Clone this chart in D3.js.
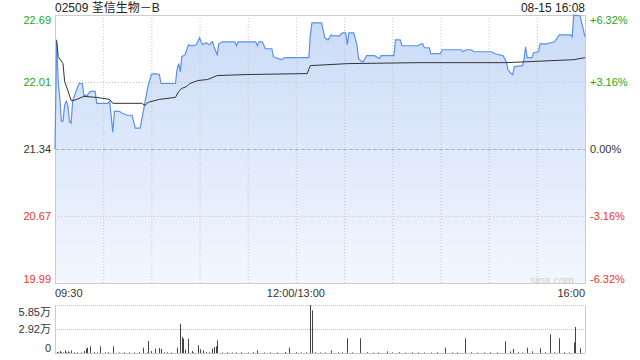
<!DOCTYPE html>
<html>
<head>
<meta charset="utf-8">
<script src="https://cdn.jsdelivr.net/npm/d3@7"></script>
<style>
    body { margin: 0; background: #ffffff; }
    text { font-family: "Liberation Sans", Arial, "Noto Sans CJK SC", sans-serif; }
    .label { font-size: 11px; fill: #333333; }
    .title { font-size: 12px; fill: #222222; }
</style>
</head>
<body>
<div id="chart"></div>
<script>
// trading minutes since 09:30 (lunch break removed), 330 = 16:00
const priceMin = [0, 1, 2, 3, 4, 5, 6, 7, 8, 9, 10, 11, 13, 15, 17, 18, 20, 22, 25, 26, 33, 34, 36, 37, 40, 42, 45, 48, 50, 53,
    55, 58, 60, 62, 65, 66, 75, 76, 77, 78, 79, 81, 83, 85, 88, 90, 91, 92, 94, 96, 98, 99, 101, 102, 104, 112, 113, 114, 125, 126,
    127, 129, 131, 135, 136, 139, 141, 143, 158, 159, 160, 166, 168, 170, 172, 173, 177, 179, 181, 182, 183, 186, 188, 189, 191, 192, 194, 199, 202, 203,
    211, 212, 215, 216, 226, 228, 229, 230, 233, 234, 240, 241, 253, 254, 256, 259, 261, 272, 274, 279, 281, 282, 284, 285, 286, 291, 292, 293, 294, 297,
    298, 301, 302, 306, 311, 314, 321, 322, 323, 327, 330];
const price = [21.34, 22.42, 22.02, 21.85, 21.62, 21.62, 21.78, 21.82, 21.78, 21.62, 21.60, 21.82, 21.92, 22.00, 22.00, 21.88, 21.88, 21.92, 21.92, 21.80, 21.80, 21.82, 21.51, 21.72, 21.72, 21.70, 21.68, 21.68, 21.55, 21.55,
    21.72, 21.98, 22.09, 22.10, 22.09, 22.00, 22.00, 22.14, 22.20, 22.12, 22.27, 22.29, 22.39, 22.38, 22.39, 22.46, 22.42, 22.39, 22.41, 22.39, 22.42, 22.37, 22.29, 22.40, 22.42, 22.42, 22.38, 22.42, 22.42, 22.38,
    22.42, 22.42, 22.35, 22.35, 22.27, 22.25, 22.24, 22.26, 22.26, 22.49, 22.61, 22.61, 22.46, 22.44, 22.49, 22.48, 22.48, 22.51, 22.51, 22.39, 22.51, 22.51, 22.39, 22.25, 22.22, 22.22, 22.28, 22.28, 22.25, 22.28,
    22.28, 22.44, 22.44, 22.38, 22.38, 22.40, 22.40, 22.36, 22.36, 22.30, 22.30, 22.34, 22.34, 22.32, 22.34, 22.34, 22.32, 22.32, 22.30, 22.28, 22.22, 22.14, 22.10, 22.09, 22.17, 22.18, 22.24, 22.37, 22.26, 22.26,
    22.31, 22.32, 22.40, 22.40, 22.42, 22.49, 22.49, 22.47, 22.69, 22.68, 22.47];

const avgMin = [1, 2, 5, 6, 8, 10, 12, 18, 26, 34, 36, 54, 56, 58, 65, 75, 77, 79, 82, 84, 89, 95, 101, 119, 157, 159, 182, 227, 281, 323, 330];
const avgPrice = [22.44, 22.27, 22.20, 22.02, 21.93, 21.83, 21.83, 21.87, 21.86, 21.84, 21.80, 21.80, 21.78, 21.81, 21.84, 21.86, 21.92, 21.95, 21.97, 22.00,
    22.03, 22.04, 22.08, 22.09, 22.10, 22.18, 22.20, 22.21, 22.21, 22.24, 22.26];

// volume in 万 shares
const volMin = [1, 3, 6, 8, 10, 18, 19, 20, 22, 28, 36, 55, 58, 60, 62, 65, 66, 76, 78, 79, 80, 81, 83, 85, 89, 90, 92, 98, 99, 100,
    101, 126, 143, 146, 159, 160, 172, 182, 190, 207, 243, 255, 280, 283, 285, 294, 297, 302, 308, 314, 323, 324, 327,
    2, 4, 5, 7, 9, 12, 14, 16, 24, 26, 31, 33, 40, 43, 46, 49, 52, 57, 68, 70, 72, 86, 94, 96, 104, 107, 110, 113, 116, 120,
    123, 130, 134, 138, 150, 153, 156, 162, 165, 168, 176, 179, 185, 194, 198, 201, 210, 214, 218, 222, 226, 230, 234, 238, 247, 250,
    259, 263, 267, 271, 275, 288, 291, 305, 311, 317, 320];
const vol = [0.12, 0.24, 0.32, 0.2, 0.32, 0.24, 0.53, 0.65, 0.81, 0.81, 0.81, 0.65, 1.46, 0.24, 0.53, 0.61, 0.49, 0.65, 3.57, 1.95, 1.75, 0.41, 1.75, 0.24, 0.93, 0.45, 0.32, 0.53, 0.73, 0.81,
    1.54, 0.32, 0.12, 0.65, 5.85, 5.2, 0.32, 1.79, 1.79, 0.2, 0.65, 1.79, 1.42, 0.2, 0.49, 0.65, 0.2, 0.57, 2.27, 1.79, 1.3, 3.17, 0.57,
    0.08, 0.1, 0.06, 0.09, 0.07, 0.1, 0.08, 0.06, 0.09, 0.07, 0.08, 0.1, 0.06, 0.09, 0.08, 0.07, 0.1, 0.06, 0.08, 0.09, 0.07, 0.06, 0.1, 0.08, 0.07, 0.09, 0.06, 0.08, 0.1, 0.07,
    0.09, 0.06, 0.08, 0.07, 0.1, 0.06, 0.08, 0.09, 0.07, 0.06, 0.08, 0.1, 0.07, 0.09, 0.06, 0.08, 0.07, 0.1, 0.06, 0.09, 0.08, 0.07, 0.06, 0.1, 0.08, 0.07,
    0.09, 0.06, 0.08, 0.1, 0.07, 0.09, 0.06, 0.08, 0.07, 0.1, 0.06];

const priceTicks = [22.69, 22.01, 21.34, 20.67, 19.99];
const pctTicks = ["+6.32%", "+3.16%", "0.00%", "-3.16%", "-6.32%"];
const volTicks = [5.85, 2.92, 0];
const volTickLabels = ["5.85万", "2.92万", "0"];
const timeTicks = [0, 150, 330];
const timeLabels = ["09:30", "12:00/13:00", "16:00"];
const gridMin = [30, 60, 90, 120, 150, 180, 210, 240, 270, 300];

const width = 640;
const height = 360;
const plotLeft = 55;
const plotRight = 585;
const plotTop = 15;
const plotBottom = 283;
const volTop = 305;
const volBottom = 353;

const green = "#1aa81a";
const red = "#f0312d";
const tickColor = [green, green, "#333333", red, red];

const svg = d3.select("#chart")
    .append("svg")
    .attr("width", width)
    .attr("height", height);

const xScale = d3.scaleLinear().domain([0, 330]).range([plotLeft, plotRight]);
const yScale = d3.scaleLinear().domain([19.99, 22.69]).range([plotBottom, plotTop]);
const vScale = d3.scaleLinear().domain([0, 5.85]).range([volBottom, volTop]);

// Title header texts
svg.append("text")
    .attr("class", "title")
    .attr("x", plotLeft)
    .attr("y", 12)
    .text("02509 荃信生物－B");

svg.append("text")
    .attr("class", "title")
    .attr("x", plotRight)
    .attr("y", 12)
    .attr("text-anchor", "end")
    .text("08-15 16:08");

// Title price area fill
const grad = svg.append("defs")
    .append("linearGradient")
    .attr("id", "fillGrad")
    .attr("gradientUnits", "userSpaceOnUse")
    .attr("x1", 0).attr("y1", plotTop)
    .attr("x2", 0).attr("y2", plotBottom);
grad.append("stop").attr("offset", "0%").attr("stop-color", "#c9dbf7");
grad.append("stop").attr("offset", "100%").attr("stop-color", "#f3f7fe");

const pts = priceMin.map((m, i) => [m, price[i]]);

svg.append("path")
    .datum(pts)
    .attr("fill", "url(#fillGrad)")
    .attr("d", d3.area()
        .x(d => xScale(d[0]))
        .y0(plotBottom)
        .y1(d => yScale(d[1])));

// Title grid lines
gridMin.forEach(function(m) {
    svg.append("line")
        .attr("x1", xScale(m) + 0.5).attr("x2", xScale(m) + 0.5)
        .attr("y1", plotTop).attr("y2", plotBottom)
        .attr("stroke", "#c4c4c4")
        .attr("stroke-dasharray", "1,2");
});

priceTicks.forEach(function(d, i) {
    if (i == 0 || i == priceTicks.length - 1) return;
    svg.append("line")
        .attr("x1", plotLeft).attr("x2", plotRight)
        .attr("y1", Math.round(yScale(d)) + 0.5).attr("y2", Math.round(yScale(d)) + 0.5)
        .attr("stroke", i == 2 ? "#b0b0b0" : "#c4c4c4")
        .attr("stroke-dasharray", i == 2 ? "4,2" : "1,2");
});

svg.append("rect")
    .attr("x", plotLeft + 0.5).attr("y", plotTop + 0.5)
    .attr("width", plotRight - plotLeft).attr("height", plotBottom - plotTop)
    .attr("fill", "none")
    .attr("stroke", "#cccccc");

// Title price and average lines
svg.append("path")
    .datum(pts)
    .attr("fill", "none")
    .attr("stroke", "#5b8ff0")
    .attr("stroke-width", 1.2)
    .attr("d", d3.line().x(d => xScale(d[0])).y(d => yScale(d[1])));

svg.append("path")
    .datum(avgMin.map((m, i) => [m, avgPrice[i]]))
    .attr("fill", "none")
    .attr("stroke", "#333333")
    .attr("stroke-width", 1)
    .attr("d", d3.line().x(d => xScale(d[0])).y(d => yScale(d[1])));

// Title axis labels
priceTicks.forEach(function(d, i) {
    const y = Math.max(20, Math.min(279, yScale(d))) + 4;

    svg.append("text")
        .attr("class", "label")
        .attr("x", 51)
        .attr("y", y)
        .attr("text-anchor", "end")
        .style("fill", tickColor[i])
        .text(d.toFixed(2));

    svg.append("text")
        .attr("class", "label")
        .attr("x", 590)
        .attr("y", y)
        .style("fill", tickColor[i])
        .text(pctTicks[i]);
});

timeTicks.forEach(function(d, i) {
    svg.append("text")
        .attr("class", "label")
        .attr("x", xScale(d))
        .attr("y", 297)
        .attr("text-anchor", i == 0 ? "start" : (i == 1 ? "middle" : "end"))
        .text(timeLabels[i]);
});

svg.append("text")
    .attr("x", 552)
    .attr("y", 284)
    .attr("text-anchor", "middle")
    .style("font-size", "11px")
    .style("fill", "#cfcfcf")
    .text("sina.com");

// Title volume panel
volTicks.forEach(function(d, i) {
    const y = Math.round(vScale(d)) + 0.5;
    svg.append("line")
        .attr("x1", plotLeft).attr("x2", plotRight)
        .attr("y1", y).attr("y2", y)
        .attr("stroke", "#c4c4c4")
        .attr("stroke-dasharray", i == volTicks.length - 1 ? null : "1,1");

    svg.append("text")
        .attr("class", "label")
        .attr("x", 51)
        .attr("y", Math.max(312, Math.min(348, vScale(d))) + 4)
        .attr("text-anchor", "end")
        .text(volTickLabels[i]);
});

[plotLeft, plotRight].forEach(function(x) {
    svg.append("line")
        .attr("x1", x + 0.5).attr("x2", x + 0.5)
        .attr("y1", volTop).attr("y2", volBottom)
        .attr("stroke", "#cccccc");
});

svg.selectAll(".vbar")
    .data(volMin.map((m, i) => [m, vol[i]]))
    .join("rect")
    .attr("class", "vbar")
    .attr("x", d => Math.round(xScale(d[0])))
    .attr("y", d => vScale(d[1]))
    .attr("width", 1)
    .attr("height", d => volBottom - vScale(d[1]))
    .attr("fill", "#444444");
</script>
</body>
</html>
